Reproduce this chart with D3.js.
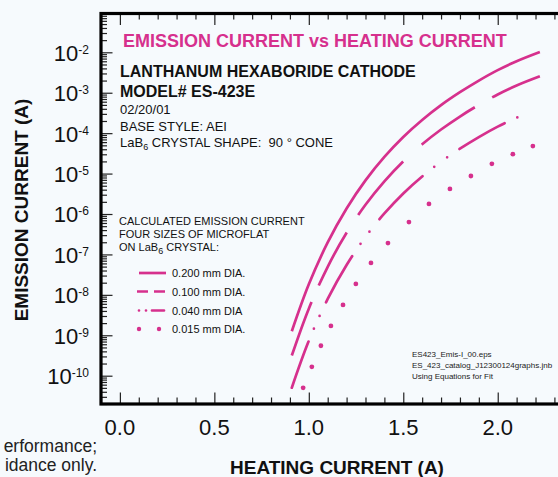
<!DOCTYPE html>
<html><head><meta charset="utf-8">
<script src="https://cdn.jsdelivr.net/npm/d3@7"></script>
<style>
html,body{margin:0;padding:0;background:#f6fafd;overflow:hidden}
svg{display:block;font-family:"Liberation Sans",Arial,Helvetica,sans-serif}
text{white-space:pre}
</style></head><body>
<svg id="c" width="558" height="477"></svg>
<script>
// ---- data ----
const xTickValues = [0.0, 0.5, 1.0, 1.5, 2.0];
const xTickLabels = ["0.0", "0.5", "1.0", "1.5", "2.0"];
const yExponents = [-2, -3, -4, -5, -6, -7, -8, -9, -10];
const seriesNames = ["0.200 mm DIA.", "0.100 mm DIA.", "0.040 mm DIA", "0.015 mm DIA."];

const current200 = [0.91, 1.0, 1.1, 1.2, 1.3, 1.4, 1.5, 1.6, 1.7, 1.8, 1.9, 2.0, 2.1, 2.223];
const emission200 = [1.26e-9, 1.82e-8, 1.98e-7, 1.37e-6, 6.78e-6, 2.58e-5, 8.04e-5, 2.12e-4, 4.93e-4, 1.03e-3, 2.00e-3, 3.63e-3, 6.03e-3, 1.02e-2];

const current100 = [0.91, 1.0, 1.1, 1.2, 1.3, 1.4, 1.5, 1.6, 1.7, 1.8, 1.9, 2.0, 2.1, 2.223];
const emission100 = [3.15e-10, 4.55e-9, 4.95e-8, 3.43e-7, 1.70e-6, 6.45e-6, 2.01e-5, 5.30e-5, 1.23e-4, 2.58e-4, 5.00e-4, 9.08e-4, 1.51e-3, 2.55e-3];

const current040 = [0.91, 1.0, 1.1, 1.2, 1.3, 1.4, 1.5, 1.6, 1.7, 1.8, 1.9, 2.0, 2.1, 2.16];
const emission040 = [5.04e-11, 7.28e-10, 7.92e-9, 5.48e-8, 2.71e-7, 1.03e-6, 3.22e-6, 8.48e-6, 1.97e-5, 4.12e-5, 8.00e-5, 1.45e-4, 2.41e-4, 3.12e-4];

const current015 = [0.97, 1.016, 1.064, 1.117, 1.181, 1.249, 1.329, 1.419, 1.530, 1.636, 1.747, 1.858, 1.969, 2.080, 2.186];
const emission015 = [5.01e-11, 1.66e-10, 5.50e-10, 1.70e-9, 5.62e-9, 1.86e-8, 6.17e-8, 1.91e-7, 6.31e-7, 1.78e-6, 4.17e-6, 8.71e-6, 1.74e-5, 3.02e-5, 4.79e-5];

// ---- drawing ----
const PINK = "#d6308d";
const INK = "#111";
const svg = d3.select("#c");
svg.append("rect").attr("width", 558).attr("height", 477).attr("fill", "#f6fafd");

const x = d3.scaleLinear().domain([-0.1, 2.4]).range([101, 573.3]);
const y = d3.scaleLog().domain([Math.pow(10, -10.7), Math.pow(10, -1.04)]).range([404, 13.5]);

const majorX = xTickValues;
const minorX = d3.range(-1, 25).map(i => i / 10).filter(v => Math.abs(v * 2 - Math.round(v * 2)) > 1e-6);
const majorY = yExponents.map(e => Math.pow(10, e));
const minorY = [];
for (let e = -11; e <= -2; e++) for (let k = 2; k <= 9; k++) {
  const v = k * Math.pow(10, e);
  if (v >= y.domain()[0] * 0.999 && v <= y.domain()[1]) minorY.push(v);
}

function styleAxis(g) {
  g.select(".domain").remove();
  g.selectAll("text").remove();
  g.selectAll("line").attr("stroke", "#222").attr("stroke-width", 1.2);
}
// bottom
svg.append("g").attr("transform", "translate(0,404)")
  .call(d3.axisBottom(x).tickValues(majorX).tickSize(-11.5).tickSizeOuter(0)).call(styleAxis);
svg.append("g").attr("transform", "translate(0,404)")
  .call(d3.axisBottom(x).tickValues(minorX).tickSize(-6.5).tickSizeOuter(0)).call(styleAxis);
// top
svg.append("g").attr("transform", "translate(0,13.5)")
  .call(d3.axisTop(x).tickValues(majorX).tickSize(-11.5).tickSizeOuter(0)).call(styleAxis);
svg.append("g").attr("transform", "translate(0,13.5)")
  .call(d3.axisTop(x).tickValues(minorX).tickSize(-6).tickSizeOuter(0)).call(styleAxis);
// left
svg.append("g").attr("transform", "translate(101,0)")
  .call(d3.axisLeft(y).tickValues(majorY).tickSize(-11.5).tickSizeOuter(0)).call(styleAxis);
svg.append("g").attr("transform", "translate(101,0)")
  .call(d3.axisLeft(y).tickValues(minorY).tickSize(-6).tickSizeOuter(0)).call(styleAxis);

// frame
svg.append("rect").attr("x", 101).attr("y", 13.5).attr("width", 472.3).attr("height", 390.5)
  .attr("fill", "none").attr("stroke", "#000").attr("stroke-width", 3.2);

// tick labels
svg.append("g").selectAll("text").data(xTickValues).join("text")
  .attr("x", d => x(d)).attr("y", 435).attr("text-anchor", "middle")
  .attr("font-size", 22).attr("fill", INK).text((d, i) => xTickLabels[i]);

const yl = svg.append("g").selectAll("text").data(yExponents).join("text")
  .attr("x", 89).attr("y", d => y(Math.pow(10, d)) + 8.4).attr("text-anchor", "end")
  .attr("font-size", 22).attr("fill", INK);
yl.append("tspan").text("10");
yl.append("tspan").attr("dy", -7).attr("font-size", 12).text(d => "-" + Math.abs(d));

// axis titles
svg.append("text").attr("x", 337).attr("y", 474).attr("text-anchor", "middle")
  .attr("font-size", 19).attr("font-weight", "bold").attr("fill", INK).text("HEATING CURRENT (A)");
svg.append("text").attr("transform", "translate(28,210) rotate(-90)").attr("text-anchor", "middle")
  .attr("font-size", 19).attr("font-weight", "bold").attr("fill", INK).text("EMISSION CURRENT (A)");

// bottom-left note (the part that is visible at the page edge)
svg.append("text").attr("x", 97).attr("y", 452).attr("text-anchor", "end")
  .attr("font-size", 17.5).attr("fill", "#222").text("erformance;");
svg.append("text").attr("x", 97).attr("y", 471).attr("text-anchor", "end")
  .attr("font-size", 17.5).attr("fill", "#222").text("idance only.");

// header texts
svg.append("text").attr("x", 123).attr("y", 47).attr("font-size", 18).attr("font-weight", "bold")
  .attr("fill", PINK).text("EMISSION CURRENT vs HEATING CURRENT");
svg.append("text").attr("x", 120).attr("y", 76.7).attr("font-size", 16).attr("font-weight", "bold")
  .attr("fill", INK).text("LANTHANUM HEXABORIDE CATHODE");
svg.append("text").attr("x", 120).attr("y", 96.7).attr("font-size", 16).attr("font-weight", "bold")
  .attr("fill", INK).text("MODEL# ES-423E");
svg.append("text").attr("x", 120).attr("y", 114.3).attr("font-size", 13).attr("fill", INK).text("02/20/01");
svg.append("text").attr("x", 120).attr("y", 130.7).attr("font-size", 13).attr("fill", INK).text("BASE STYLE: AEI");
const ls = svg.append("text").attr("x", 120).attr("y", 146.7).attr("font-size", 13).attr("fill", INK);
ls.append("tspan").text("LaB");
ls.append("tspan").attr("dy", 3).attr("font-size", 9).text("6");
ls.append("tspan").attr("dy", -3).text(" CRYSTAL SHAPE:  90 ° CONE");

// legend header
svg.append("text").attr("x", 119).attr("y", 225).attr("font-size", 11).attr("fill", INK).text("CALCULATED EMISSION CURRENT");
svg.append("text").attr("x", 119).attr("y", 238).attr("font-size", 11).attr("fill", INK).text("FOUR SIZES OF MICROFLAT");
const on = svg.append("text").attr("x", 119).attr("y", 251).attr("font-size", 11).attr("fill", INK);
on.append("tspan").text("ON LaB");
on.append("tspan").attr("dy", 3).attr("font-size", 9).text("6");
on.append("tspan").attr("dy", -3).text(" CRYSTAL:");

// file info
const info = ["ES423_Emis-I_00.eps", "ES_423_catalog_J12300124graphs.jnb", "Using Equations for Fit"];
svg.append("g").selectAll("text").data(info).join("text")
  .attr("x", 412).attr("y", (d, i) => 357 + i * 11).attr("font-size", 8).attr("fill", "#222").text(d => d);

// ---- series ----
const line = d3.line().x(d => x(d[0])).y(d => y(d[1])).curve(d3.curveCatmullRom.alpha(0.5));
const zip = (a, b) => a.map((v, i) => [v, b[i]]);

svg.append("path").datum(zip(current200, emission200)).attr("d", line)
  .attr("fill", "none").attr("stroke", PINK).attr("stroke-width", 2.7);
svg.append("path").datum(zip(current100, emission100)).attr("d", line)
  .attr("fill", "none").attr("stroke", PINK).attr("stroke-width", 2.7)
  .attr("stroke-dasharray", "57,18,60,21,70,25,65,20,80");
svg.append("path").datum(zip(current040, emission040)).attr("d", line)
  .attr("fill", "none").attr("stroke", PINK).attr("stroke-width", 2.7).attr("stroke-linecap", "round")
  .attr("stroke-dasharray", "49,14,0,14,0,15,53,15,0,15,0,16,61,15,0,16,0,15,52,14,0,14,0,60");
svg.append("g").selectAll("circle").data(zip(current015, emission015)).join("circle")
  .attr("cx", d => x(d[0])).attr("cy", d => y(d[1])).attr("r", 2.4).attr("fill", PINK);

// ---- legend ----
const legY = [273, 291.5, 310.5, 329];
const lg = svg.append("g");
lg.append("line").attr("x1", 139).attr("x2", 166).attr("y1", legY[0]).attr("y2", legY[0])
  .attr("stroke", PINK).attr("stroke-width", 2.7);
lg.append("line").attr("x1", 137).attr("x2", 165).attr("y1", legY[1]).attr("y2", legY[1])
  .attr("stroke", PINK).attr("stroke-width", 2.7).attr("stroke-dasharray", "11,6,11");
lg.append("line").attr("x1", 139).attr("x2", 164).attr("y1", legY[2]).attr("y2", legY[2])
  .attr("stroke", PINK).attr("stroke-width", 2.7).attr("stroke-linecap", "round")
  .attr("stroke-dasharray", "0,7,0,6,12");
lg.selectAll("circle").data([139, 159]).join("circle")
  .attr("cx", d => d).attr("cy", legY[3]).attr("r", 2.2).attr("fill", PINK);
lg.selectAll("text").data(seriesNames).join("text")
  .attr("x", 172).attr("y", (d, i) => legY[i] + 4).attr("font-size", 11).attr("fill", INK).text(d => d);
</script>
</body></html>
